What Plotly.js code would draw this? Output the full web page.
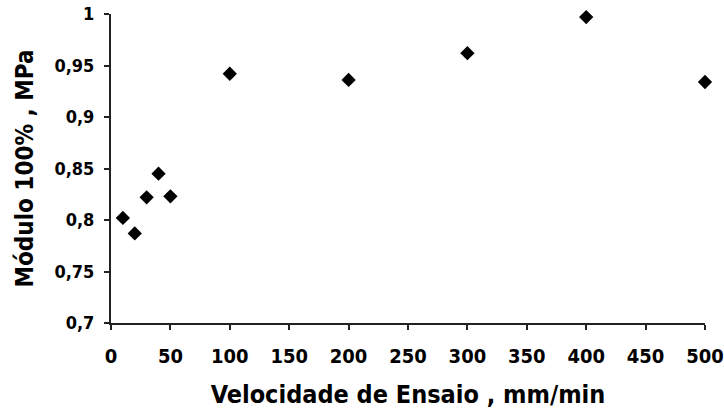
<!DOCTYPE html>
<html>
<head>
<meta charset="utf-8">
<script src="https://cdn.plot.ly/plotly-3.0.1.min.js"></script>
<style>html,body{margin:0;padding:0;background:#fff;}#chart{width:724px;height:416px;}</style>
</head>
<body>
<div id="chart"></div>
<script>
const velocidade = [10, 20, 30, 40, 50, 100, 200, 300, 400, 500];
const modulo = [0.802, 0.787, 0.822, 0.845, 0.823, 0.942, 0.936, 0.962, 0.997, 0.934];
const xTickVals = [0, 50, 100, 150, 200, 250, 300, 350, 400, 450, 500];
const xTickText = ["0", "50", "100", "150", "200", "250", "300", "350", "400", "450", "500"];
const yTickVals = [0.7, 0.75, 0.8, 0.85, 0.9, 0.95, 1];
const yTickText = ["0,7", "0,75", "0,8", "0,85", "0,9", "0,95", "1"];

const FONT = '"Liberation Sans Narrow", "Arial Narrow", "DejaVu Sans Condensed", sans-serif';

Plotly.newPlot('chart', [{
  x: velocidade,
  y: modulo,
  type: 'scatter',
  mode: 'markers',
  cliponaxis: false,
  marker: {symbol: 'diamond', size: 11, color: '#000000'},
  hoverinfo: 'x+y'
}], {
  width: 724, height: 416,
  margin: {l: 111, r: 19, t: 14, b: 93},
  paper_bgcolor: '#ffffff', plot_bgcolor: '#ffffff',
  showlegend: false,
  separators: ',.',
  font: {family: FONT, color: '#000000'},
  xaxis: {
    range: [0, 500],
    tickvals: xTickVals, ticktext: xTickText,
    showgrid: false, zeroline: false,
    showline: true, linecolor: '#222222', linewidth: 2,
    ticks: 'outside', ticklen: 5, tickwidth: 2, tickcolor: '#222222',
    ticklabelstandoff: 9,
    tickfont: {family: FONT, size: 20, color: '#000000', weight: 'bold'},
    title: {text: '<b>Velocidade de Ensaio , mm/min</b>', font: {family: FONT, size: 25, color: '#000000'}, standoff: 18}
  },
  yaxis: {
    range: [0.7, 1],
    tickvals: yTickVals, ticktext: yTickText,
    showgrid: false, zeroline: false,
    showline: true, linecolor: '#222222', linewidth: 2,
    ticks: 'outside', ticklen: 5, tickwidth: 2, tickcolor: '#222222',
    ticklabelstandoff: 6,
    tickfont: {family: FONT, size: 18, color: '#000000', weight: 'bold'},
    title: {text: '<b>Módulo 100% , MPa</b>', font: {family: FONT, size: 24, color: '#000000'}, standoff: 14}
  }
}, {displayModeBar: false, staticPlot: true});
</script>
</body>
</html>
